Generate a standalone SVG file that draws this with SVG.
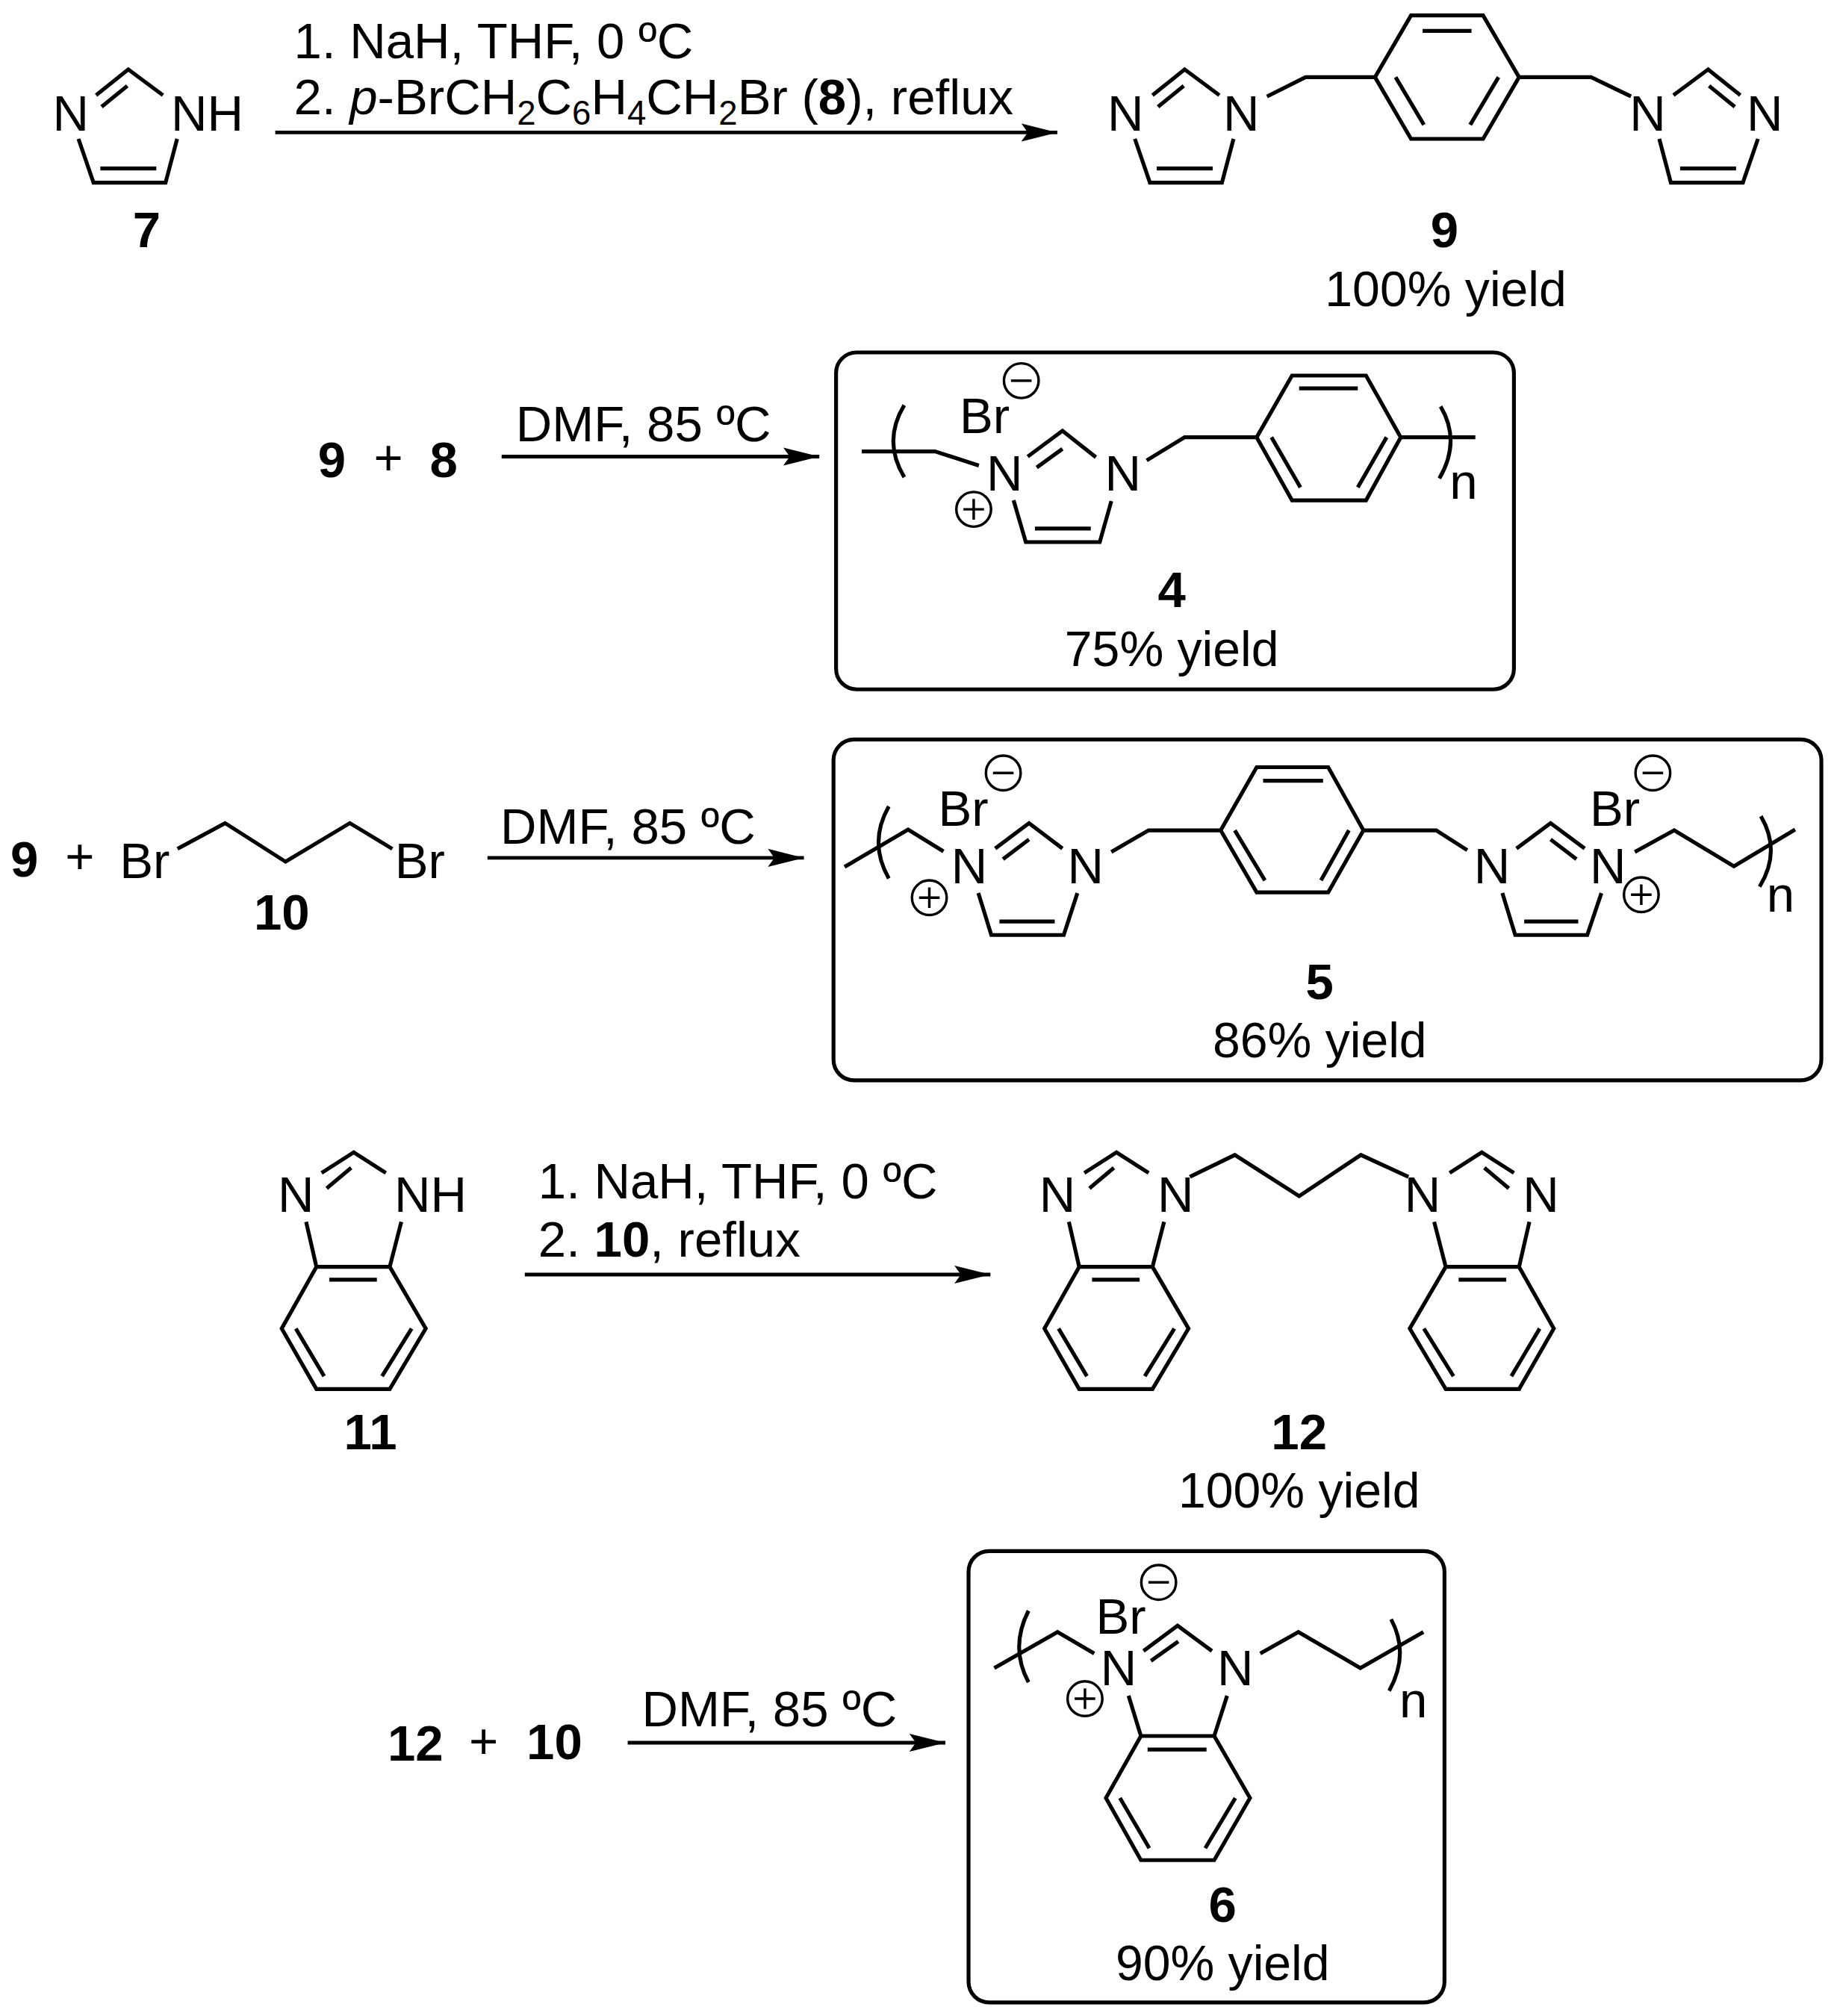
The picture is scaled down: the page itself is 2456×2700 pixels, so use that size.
<svg xmlns="http://www.w3.org/2000/svg" xmlns:xlink="http://www.w3.org/1999/xlink" width="2456" height="2700" viewBox="0 0 2456 2700">
<style>
text{font-family:"Liberation Sans",Arial,sans-serif;font-size:39px;fill:#000}
.m{text-anchor:middle}
.h{font-weight:bold}
.sm{font-size:26.5px}
.y{font-size:38.4px}
.b{fill:none;stroke:#000;stroke-width:3;stroke-linejoin:miter;stroke-linecap:butt}
.c{fill:none;stroke:#000;stroke-width:2}
.box{fill:none;stroke:#000;stroke-width:3}
.a{fill:none;stroke:#000;stroke-width:2.8}
</style>
<defs>
<marker id="arr" markerUnits="userSpaceOnUse" markerWidth="30" markerHeight="16" refX="28" refY="8" orient="auto"><path d="M0,1 L28,8 L0,15 L5,8 Z" fill="#000"/></marker>
<path id="im" class="b" d="M-25,20 L0,0 L27,20 M-0.7,12.7 L-20.7,29 M-38.7,54 L-27,88 L29,88 L38,54 M-21.7,77 L21.8,77"/>
<path id="bim" class="b" d="M-25,16 L0,0 L25,16 M-2,12 L-21,28 M-37,54 L-29,89 L28,89 L37,54 M-29,89 L-56,137 L-29,184 L28,184 L56,137 L28,89 M-19,99 L18,99 M-45,137 L-23,174 M45,137 L22,174"/>
<g id="minus"><ellipse class="c" rx="13.5" ry="13.5"/><path class="c" d="M-8,0 H8"/></g>
<g id="plus"><ellipse class="c" rx="13.5" ry="13.5"/><path class="c" d="M-8,0 H8 M0,-8 V8"/></g>
</defs>
<g transform="scale(1.7225)">
<g id="connectors">
<line class="a" x1="214" y1="103" x2="822" y2="103" marker-end="url(#arr)"/>
<line class="a" x1="390" y1="355" x2="637" y2="355" marker-end="url(#arr)"/>
<line class="a" x1="379" y1="667" x2="625" y2="667" marker-end="url(#arr)"/>
<line class="a" x1="408" y1="991" x2="770" y2="991" marker-end="url(#arr)"/>
<line class="a" x1="488" y1="1355" x2="735" y2="1355" marker-end="url(#arr)"/>
</g>
<g id="reagents">
<text x="228.5" y="45">1. NaH, THF, 0 ºC</text>
<text x="228.5" y="89">2. <tspan font-style="italic">p</tspan>-BrCH<tspan class="sm" dy="7.7">2</tspan><tspan dy="-7.7">C</tspan><tspan class="sm" dy="7.7">6</tspan><tspan dy="-7.7">H</tspan><tspan class="sm" dy="7.7">4</tspan><tspan dy="-7.7">CH</tspan><tspan class="sm" dy="7.7">2</tspan><tspan dy="-7.7">Br (</tspan><tspan class="h">8</tspan>), reflux</text>
<text x="401" y="343">DMF, 85 ºC</text>
<text x="389" y="656">DMF, 85 ºC</text>
<text x="418.5" y="932">1. NaH, THF, 0 ºC</text>
<text x="418.5" y="977">2. <tspan class="h">10</tspan>, reflux</text>
<text x="499" y="1342">DMF, 85 ºC</text>
</g>
<g id="n7">
<use href="#im" xlink:href="#im" x="99.7" y="54"/>
<text class="m" x="55" y="101.5">N</text>
<text x="133" y="101.5">NH</text>
<text class="m h" x="114" y="192">7</text>
</g>
<g id="n9">
<use href="#im" xlink:href="#im" x="921" y="54"/>
<text class="m" x="875" y="101.5">N</text>
<text class="m" x="965" y="101.5">N</text>
<use href="#im" xlink:href="#im" transform="translate(1328,54) scale(-1,1)"/>
<text class="m" x="1281" y="101.5">N</text>
<text class="m" x="1372" y="101.5">N</text>
<path class="b" d="M985,75 L1015,60 H1069 L1097,12 H1153 L1181,60 L1153,108 H1097 L1069,60 M1106,24 H1144 M1085,60 L1107,97 M1165,60 L1143,97 M1181,60 H1237 L1268,75"/>
<text class="m h" x="1123" y="192">9</text>
<text class="m y" x="1124" y="238">100% yield</text>
</g>
<g id="row2-reactants">
<text class="m h" x="258" y="371">9</text>
<text class="m" x="302" y="369">+</text>
<text class="m h" x="345" y="371">8</text>
</g>
<g id="n4">
<rect class="box" x="650" y="274" width="527" height="262" rx="16"/>
<path class="b" d="M670,351 H727 L761,362 M799,355 L826,335 L852,355.5 M826,349 L806,363.5 M788,389 L797.5,421.5 H855 L864,389.6 M804.6,411 H848 M891.5,358 L921,340 H977 L1004.5,292 H1062 L1089,340 L1062,389 H1004.5 L977,340 M1010,302 H1055.6 M988.5,340 L1011,379 M1078,340 L1055.6,379 M1089,340 H1147"/>
<path class="b" d="M703,315 Q686,343 703,371 M1120,316 Q1136,343 1119,372"/>
<text x="746" y="337">Br</text>
<use href="#minus" xlink:href="#minus" x="794" y="296"/>
<use href="#plus" xlink:href="#plus" x="757" y="396"/>
<text class="m" x="781" y="381.5">N</text>
<text class="m" x="873" y="381.5">N</text>
<text x="1127" y="388">n</text>
<text class="m h" x="911" y="472">4</text>
<text class="m y" x="911" y="518">75% yield</text>
</g>
<g id="row3-reactants">
<text class="m h" x="19" y="681.5">9</text>
<text class="m" x="62" y="679">+</text>
<text x="93" y="683">Br</text>
<path class="b" d="M138,660 L175,640 L222,670 L272,640 L305,660"/>
<text x="307" y="683">Br</text>
<text class="m h" x="219" y="723">10</text>
</g>
<g id="n5">
<rect class="box" x="648" y="575" width="768" height="265" rx="16"/>
<path class="b" d="M656.6,674 L706,645 L733.5,662 M773.7,659.7 L800,640 L826,659.7 M800,652.7 L779.8,668 M760.6,694.4 L770.7,727 H827 L837.6,694.4 M777,716.5 H820 M864,662.4 L893,645.6 H949 L977,596.5 H1032.6 L1060,645.6 L1032.6,693.8 H977 L949,645.6 M982,607 H1028.6 M960,645.6 L983.4,684.5 M1048.7,645.6 L1027,684.5 M1060,645.6 H1116.6 L1140.7,661 M1179,659.7 L1205.5,640 L1232,659.7 M1205.5,652.7 L1225.6,668 M1168,694.4 L1178,727 H1234 L1245,694.4 M1185,716.5 H1227 M1271,662.4 L1301.6,645.6 L1348,673.6 L1395.6,645"/>
<path class="b" d="M691,627 Q675,655 691,683 M1369,634.6 Q1385,662 1368,689.4"/>
<text x="729.5" y="642">Br</text>
<use href="#minus" xlink:href="#minus" x="780" y="601"/>
<use href="#plus" xlink:href="#plus" x="722.5" y="698"/>
<text class="m" x="753.6" y="687">N</text>
<text class="m" x="844" y="687">N</text>
<text class="m" x="1160" y="687">N</text>
<text class="m" x="1250" y="687">N</text>
<text x="1236" y="642">Br</text>
<use href="#minus" xlink:href="#minus" x="1285" y="601"/>
<use href="#plus" xlink:href="#plus" x="1276" y="695.7"/>
<text x="1373.5" y="709">n</text>
<text class="m h" x="1026" y="777">5</text>
<text class="m y" x="1026" y="822">86% yield</text>
</g>
<g id="n11">
<use href="#bim" xlink:href="#bim" x="275" y="896"/>
<text class="m" x="230" y="942.5">N</text>
<text x="306.5" y="942.5">NH</text>
<text class="m h" x="288" y="1127">11</text>
</g>
<g id="n12">
<use href="#bim" xlink:href="#bim" x="868" y="896"/>
<text class="m" x="822" y="942.5">N</text>
<text class="m" x="914" y="942.5">N</text>
<use href="#bim" xlink:href="#bim" transform="translate(1152,896) scale(-1,1)"/>
<text class="m" x="1106" y="942.5">N</text>
<text class="m" x="1198" y="942.5">N</text>
<path class="b" d="M925,915 L960,898 L1010,930 L1058,898 L1095,915"/>
<text class="m h" x="1010" y="1127">12</text>
<text class="m y" x="1010" y="1172">100% yield</text>
</g>
<g id="row5-reactants">
<text class="m h" x="323" y="1369">12</text>
<text class="m" x="376" y="1367">+</text>
<text class="m h" x="431" y="1368">10</text>
</g>
<g id="n6">
<rect class="box" x="753" y="1206" width="370" height="351" rx="16"/>
<path class="b" d="M773,1297 L822.2,1268.9 L850.7,1285.6 M889,1283.7 L915.5,1264 L942.2,1283.7 M916,1276.3 L894.8,1291.4 M877.4,1318.5 L887,1349.8 H944 L954,1318.5 M892.2,1360.3 H938 M887,1349.8 L859.8,1398 L887,1446.3 H944 L971.8,1398 L944,1349.8 M870.7,1398 L893.5,1437 M960.4,1398 L937,1437 M979.8,1285.6 L1009.4,1268.9 L1057.6,1297 L1106.6,1268.9"/>
<path class="b" d="M799.6,1252.4 Q785,1281 799.6,1308 M1081.5,1259 Q1096,1286 1080,1314.6"/>
<text x="852" y="1270.5">Br</text>
<use href="#minus" xlink:href="#minus" x="900.8" y="1230.3"/>
<use href="#plus" xlink:href="#plus" x="843.5" y="1320.8"/>
<text class="m" x="869.6" y="1310.5">N</text>
<text class="m" x="960.4" y="1310.5">N</text>
<text x="1088" y="1335">n</text>
<text class="m h" x="950.5" y="1494.6">6</text>
<text class="m y" x="950.5" y="1539.6">90% yield</text>
</g>
</g>
</svg>
